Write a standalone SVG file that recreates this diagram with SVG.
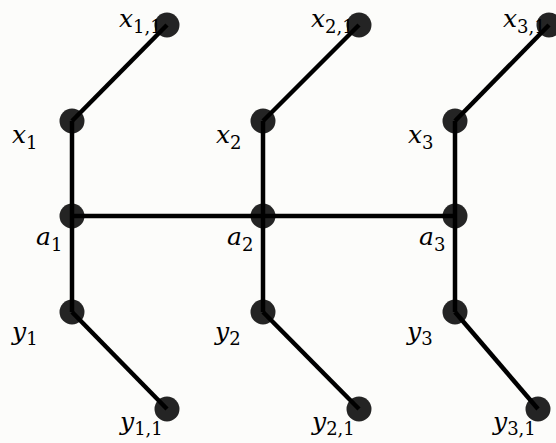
<svg xmlns="http://www.w3.org/2000/svg" width="556" height="443" viewBox="0 0 556 443">
  <style>
    .edge { stroke: #000; stroke-width: 4.5; stroke-linecap: butt; fill: none; }
    .dot { fill: #000; fill-opacity: 0.86; }
    .sub { font-style: normal; font-size: 18px; }
  </style>
  <rect width="556" height="443" fill="#fcfcfa"/>

  <!-- edges -->
  <g id="edges">
    <line class="edge" x1="72" y1="216" x2="455" y2="216"/>
    <line class="edge" x1="72" y1="121" x2="72" y2="312"/>
    <line class="edge" x1="263" y1="121" x2="263" y2="312"/>
    <line class="edge" x1="455" y1="121" x2="455" y2="312"/>
    <line class="edge" x1="72" y1="121" x2="167" y2="25"/>
    <line class="edge" x1="263" y1="121" x2="359" y2="25"/>
    <line class="edge" x1="455" y1="121" x2="549" y2="25"/>
    <line class="edge" x1="72" y1="312" x2="167" y2="409"/>
    <line class="edge" x1="263" y1="312" x2="359" y2="409"/>
    <line class="edge" x1="455" y1="312" x2="538" y2="409"/>
  </g>

  <!-- labels sit under the node dots -->
  <g id="n-x11"><text font-family="DejaVu Serif" font-style="italic" font-size="25" x="119" y="27">x<tspan class="sub" dy="6">1,1</tspan></text><circle class="dot" cx="167" cy="25" r="12.5"/></g>
  <g id="n-x21"><text font-family="DejaVu Serif" font-style="italic" font-size="25" x="311" y="27">x<tspan class="sub" dy="6">2,1</tspan></text><circle class="dot" cx="359" cy="25" r="12.5"/></g>
  <g id="n-x31"><text font-family="DejaVu Serif" font-style="italic" font-size="25" x="503" y="27">x<tspan class="sub" dy="6">3,1</tspan></text><circle class="dot" cx="549" cy="25" r="12.5"/></g>

  <g id="n-x1"><text font-family="DejaVu Serif" font-style="italic" font-size="25" x="12" y="143">x<tspan class="sub" dy="6">1</tspan></text><circle class="dot" cx="72" cy="121" r="12.5"/></g>
  <g id="n-x2"><text font-family="DejaVu Serif" font-style="italic" font-size="25" x="216" y="143">x<tspan class="sub" dy="6">2</tspan></text><circle class="dot" cx="263" cy="121" r="12.5"/></g>
  <g id="n-x3"><text font-family="DejaVu Serif" font-style="italic" font-size="25" x="408" y="143">x<tspan class="sub" dy="6">3</tspan></text><circle class="dot" cx="455" cy="121" r="12.5"/></g>

  <g id="n-a1"><text font-family="DejaVu Serif" font-style="italic" font-size="25" x="36" y="245">a<tspan class="sub" dy="6">1</tspan></text><circle class="dot" cx="72" cy="216" r="12.5"/></g>
  <g id="n-a2"><text font-family="DejaVu Serif" font-style="italic" font-size="25" x="227" y="245">a<tspan class="sub" dy="6">2</tspan></text><circle class="dot" cx="263" cy="216" r="12.5"/></g>
  <g id="n-a3"><text font-family="DejaVu Serif" font-style="italic" font-size="25" x="419" y="245">a<tspan class="sub" dy="6">3</tspan></text><circle class="dot" cx="455" cy="216" r="12.5"/></g>

  <g id="n-y1"><text font-family="DejaVu Serif" font-style="italic" font-size="25" x="12" y="340">y<tspan class="sub" dy="5">1</tspan></text><circle class="dot" cx="72" cy="312" r="12.5"/></g>
  <g id="n-y2"><text font-family="DejaVu Serif" font-style="italic" font-size="25" x="215" y="340">y<tspan class="sub" dy="5">2</tspan></text><circle class="dot" cx="263" cy="312" r="12.5"/></g>
  <g id="n-y3"><text font-family="DejaVu Serif" font-style="italic" font-size="25" x="407" y="340">y<tspan class="sub" dy="5">3</tspan></text><circle class="dot" cx="455" cy="312" r="12.5"/></g>

  <g id="n-y11"><text font-family="DejaVu Serif" font-style="italic" font-size="25" x="120" y="430">y<tspan class="sub" dy="5">1,1</tspan></text><circle class="dot" cx="167" cy="409" r="12.5"/></g>
  <g id="n-y21"><text font-family="DejaVu Serif" font-style="italic" font-size="25" x="312" y="430">y<tspan class="sub" dy="5">2,1</tspan></text><circle class="dot" cx="359" cy="409" r="12.5"/></g>
  <g id="n-y31"><text font-family="DejaVu Serif" font-style="italic" font-size="25" x="493" y="430">y<tspan class="sub" dy="5">3,1</tspan></text><circle class="dot" cx="538" cy="409" r="12.5"/></g>
</svg>
